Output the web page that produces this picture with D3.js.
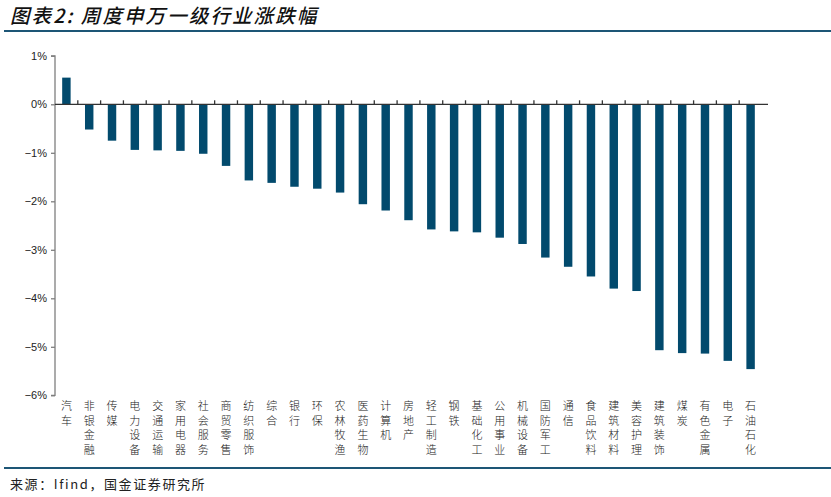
<!DOCTYPE html>
<html><head><meta charset="utf-8">
<script src="https://cdn.jsdelivr.net/npm/d3@7"></script>
<style>body{margin:0;background:#fff;}svg{display:block;}</style>
</head><body>
<svg id="c" width="831" height="497"></svg>
<script>
const categories = ["汽车","非银金融","传媒","电力设备","交通运输","家用电器","社会服务","商贸零售","纺织服饰","综合","银行","环保","农林牧渔","医药生物","计算机","房地产","轻工制造","钢铁","基础化工","公用事业","机械设备","国防军工","通信","食品饮料","建筑材料","美容护理","建筑装饰","煤炭","有色金属","电子","石油石化"];
const values = [0.55,-0.52,-0.75,-0.94,-0.95,-0.96,-1.02,-1.27,-1.57,-1.62,-1.70,-1.74,-1.82,-2.06,-2.19,-2.39,-2.58,-2.62,-2.64,-2.75,-2.88,-3.16,-3.35,-3.55,-3.80,-3.85,-5.07,-5.13,-5.14,-5.29,-5.46];
const yTicks = [1,0,-1,-2,-3,-4,-5,-6];
const title = "图表2: 周度申万一级行业涨跌幅";
const source = "来源：Ifind，国金证券研究所";

const svg = d3.select("#c");
const accent = "#1d5676";
const barColor = "#024a6d";
const axisColor = "#7f7f7f";

svg.append("text").attr("x",10).attr("y",23)
  .attr("font-family","'Noto Sans CJK SC'").attr("font-size",19.5).attr("font-style","italic")
  .attr("font-weight",500).attr("letter-spacing",2.1).attr("fill","#111").text(title);
svg.append("line").attr("x1",4).attr("x2",831).attr("y1",31).attr("y2",31).attr("stroke",accent).attr("stroke-width",2);
svg.append("line").attr("x1",4).attr("x2",831).attr("y1",468).attr("y2",468).attr("stroke",accent).attr("stroke-width",2);
svg.append("text").attr("x",10).attr("y",489)
  .attr("font-family","'Noto Sans CJK SC'").attr("font-size",13).attr("letter-spacing",1.6).attr("fill","#222").text(source);

const x = d3.scaleBand().domain(categories).range([55,762]).paddingInner(0.63).paddingOuter(0.315);
const y = d3.scaleLinear().domain([-6,1]).range([395.3,55.8]);

// bars
svg.append("g").selectAll("rect").data(values).join("rect")
  .attr("x",(d,i)=>x(categories[i]))
  .attr("width",x.bandwidth())
  .attr("y",d=>y(Math.max(0,d)))
  .attr("height",d=>Math.abs(y(d)-y(0)))
  .attr("fill",barColor);

// y axis
const yAxis = d3.axisLeft(y).tickValues(yTicks).tickSize(4).tickPadding(4)
  .tickFormat(d=> (d<0?"−":"")+Math.abs(d)+"%");
const gy = svg.append("g").attr("transform","translate(55,0)").call(yAxis);
gy.select(".domain").attr("stroke",axisColor).attr("stroke-width",1.3).attr("d","M-4,"+y(1)+"H0V"+y(-6)+"H-4");
gy.selectAll(".tick line").attr("stroke",axisColor).attr("stroke-width",1.3);
gy.selectAll(".tick text").attr("font-family","'Liberation Sans', Arial").attr("font-size",11).attr("fill","#222");

// x axis at zero
const step = x.step();
const xAxis = svg.append("g");
xAxis.append("line").attr("x1",55).attr("x2",768).attr("y1",y(0)).attr("y2",y(0)).attr("stroke","#333").attr("stroke-width",1.3);
xAxis.selectAll("line.t").data(categories.slice(1)).join("line").attr("class","t")
  .attr("x1",d=>x(d)-(step-x.bandwidth())/2).attr("x2",d=>x(d)-(step-x.bandwidth())/2)
  .attr("y1",y(0)-4).attr("y2",y(0)).attr("stroke","#333").attr("stroke-width",1.3);

// x labels vertical stacked
const lbl = svg.append("g");
categories.forEach((c,i)=>{
  const cx = x(c)+x.bandwidth()/2;
  [...c].forEach((ch,j)=>{
    lbl.append("text").attr("font-family","'Noto Sans CJK SC'").attr("font-size",11).attr("font-weight",300)
      .attr("fill","#222").attr("text-anchor","middle")
      .attr("x",cx).attr("y",410+j*14.5).text(ch);
  });
});
</script>
</body></html>
